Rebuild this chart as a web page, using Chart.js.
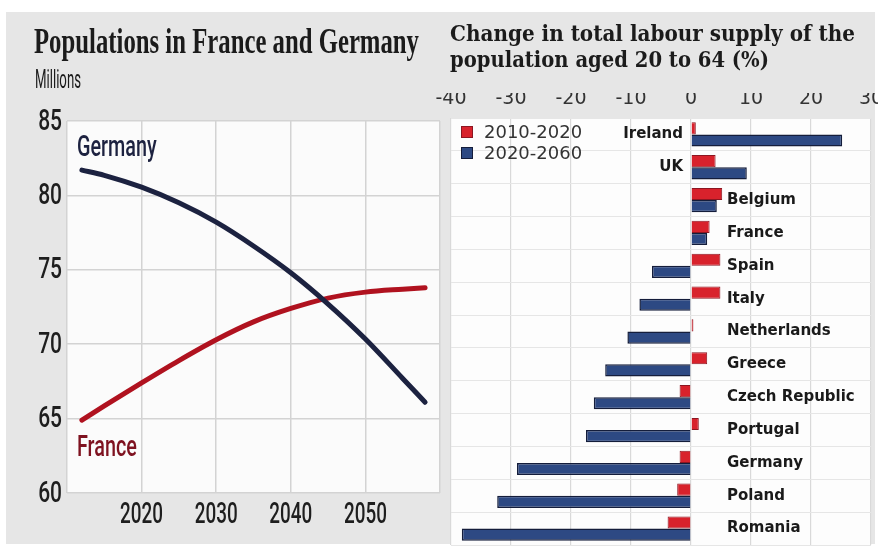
<!DOCTYPE html>
<html>
<head>
<meta charset="utf-8">
<script src="https://cdn.jsdelivr.net/npm/chart.js@4"></script>
<style>
  body { margin: 0; width: 878px; height: 547px; background: #fff; position: relative; overflow: hidden; }
  #frame { position: absolute; left: 6px; top: 12px; width: 869px; height: 532px; background: #e6e6e6; }
  .fit { position: absolute; white-space: nowrap; transform-origin: 0 0; color: #1b1b1b; }
  #left-title { left: 34px; top: 22px; font: bold 35px "Liberation Serif", serif; }
  #millions { left: 35px; top: 64px; font: 26px Roboto, sans-serif; }
  #right-title1 { left: 450px; top: 20px; font: bold 22px "DejaVu Serif", serif; }
  #right-title2 { left: 450px; top: 46px; font: bold 22px "DejaVu Serif", serif; }
  #left-wrap { position: absolute; left: 0; top: 0; }
  #right-wrap { position: absolute; left: 436px; top: 0; }
  #legend { position: absolute; left: 461px; top: 121px; font: 18px "DejaVu Sans", sans-serif; color: #333; }
  #legend div { height: 21px; display: flex; align-items: center; }
  #legend span.box { width: 10px; height: 10px; border: 1.5px solid; margin-right: 11px; }
</style>
</head>
<body>
<div id="frame"></div>
<div id="left-wrap"><canvas id="left-chart" width="445" height="547"></canvas></div>
<div id="right-wrap"><canvas id="right-chart" width="442" height="547"></canvas></div>
<div class="fit" id="left-title" data-w="385">Populations in France and Germany</div>
<div class="fit" id="millions" data-w="46">Millions</div>
<div class="fit" id="right-title1" data-w="405">Change in total labour supply of the</div>
<div class="fit" id="right-title2" data-w="319">population aged 20 to 64 (%)</div>
<div id="legend"></div>
<script>
// left panel: population, millions
const years = [2012, 2015, 2020, 2025, 2030, 2035, 2040, 2045, 2050, 2055, 2058];
const germany = [81.7, 81.35, 80.55, 79.5, 78.2, 76.6, 74.8, 72.7, 70.35, 67.7, 66.1];
const france = [64.9, 65.85, 67.4, 68.9, 70.3, 71.5, 72.4, 73.1, 73.5, 73.7, 73.8];
const yearTicks = [2020, 2030, 2040, 2050];

// right panel: change in labour supply, %
const countries = ['Ireland', 'UK', 'Belgium', 'France', 'Spain', 'Italy', 'Netherlands',
  'Greece', 'Czech Republic', 'Portugal', 'Germany', 'Poland', 'Romania'];
const change2010to2020 = [0.8, 4.1, 5.2, 3.1, 4.9, 4.9, 0.4, 2.7, -1.9, 1.3, -1.9, -2.3, -3.9];
const change2020to2060 = [25.2, 9.3, 4.3, 2.7, -6.5, -8.6, -10.6, -14.3, -16.2, -17.5, -29.0, -32.3, -38.2];
const seriesNames = ['2010-2020', '2020-2060'];

const RED = '#d8222c', RED_EDGE = '#8c1621';
const BLUE = '#2d4983', BLUE_EDGE = '#141d3b';

function narrowText(ctx, text, x, y, align, sx) {
  ctx.save();
  ctx.translate(x, y);
  ctx.scale(sx, 1);
  ctx.textAlign = align;
  ctx.fillText(text, 0, 0);
  ctx.restore();
}

const leftDecor = {
  id: 'leftDecor',
  beforeDraw(chart) {
    const { ctx, chartArea: a } = chart;
    ctx.save();
    ctx.fillStyle = '#fbfbfb';
    ctx.fillRect(a.left, a.top, a.right - a.left, a.bottom - a.top);
    ctx.restore();
  },
  afterDraw(chart) {
    const { ctx, chartArea: a, scales } = chart;
    ctx.save();
    ctx.fillStyle = '#1e1e1e';
    ctx.textBaseline = 'middle';
    ctx.font = '500 30px Roboto, sans-serif';
    scales.y.ticks.forEach(t => {
      narrowText(ctx, String(t.value), a.left - 5, scales.y.getPixelForValue(t.value) + 1, 'right', 0.7);
    });
    yearTicks.forEach(v => {
      narrowText(ctx, String(v), scales.x.getPixelForValue(v), a.bottom + 22, 'center', 0.63);
    });
    ctx.textBaseline = 'alphabetic';
    const g = chart.getDatasetMeta(0).data[0];
    const f = chart.getDatasetMeta(1).data[0];
    ctx.fillStyle = '#1d2240';
    narrowText(ctx, 'Germany', g.x - 5, g.y - 14, 'left', 0.66);
    ctx.fillStyle = '#7e1220';
    narrowText(ctx, 'France', f.x - 5, f.y + 36, 'left', 0.66);
    ctx.restore();
  }
};

new Chart(document.getElementById('left-chart'), {
  type: 'line',
  data: {
    datasets: [
      { label: 'Germany', data: years.map((x, i) => ({ x, y: germany[i] })), borderColor: '#1c2240' },
      { label: 'France', data: years.map((x, i) => ({ x, y: france[i] })), borderColor: '#b0121f' },
    ],
  },
  options: {
    responsive: false,
    animation: false,
    layout: { padding: { left: 12, right: 5, top: 121, bottom: 14 } },
    elements: {
      line: { borderWidth: 5, tension: 0.4, cubicInterpolationMode: 'monotone', borderCapStyle: 'round' },
      point: { radius: 0 },
    },
    plugins: { legend: { display: false }, tooltip: { enabled: false } },
    scales: {
      x: {
        type: 'linear', min: 2010, max: 2060,
        afterFit: s => { s.height = 40; },
        ticks: { stepSize: 10, display: false },
        grid: { color: '#d3d3d3', lineWidth: 1.5, drawTicks: false },
        border: { display: false },
      },
      y: {
        min: 60, max: 85,
        afterFit: s => { s.width = 55; },
        ticks: { stepSize: 5, display: false },
        grid: { color: '#d3d3d3', lineWidth: 1.5, drawTicks: false },
        border: { display: false },
      },
    },
  },
  plugins: [leftDecor],
});

const rightDecor = {
  id: 'rightDecor',
  beforeDraw(chart) {
    const { ctx, chartArea: a } = chart;
    ctx.save();
    ctx.fillStyle = '#fdfdfd';
    ctx.fillRect(a.left, a.top, a.right - a.left, a.bottom - a.top);
    ctx.restore();
  },
  afterDatasetsDraw(chart) {
    const { ctx, scales } = chart;
    const x0 = scales.x.getPixelForValue(0);
    const labelX = x0 + 36;
    ctx.save();
    ctx.font = 'bold 15px "DejaVu Sans", sans-serif';
    ctx.fillStyle = '#1a1a1a';
    ctx.textBaseline = 'middle';
    countries.forEach((name, i) => {
      const y = scales.y.getPixelForValue(i);
      const end = scales.x.getPixelForValue(Math.max(0, change2010to2020[i], change2020to2060[i]));
      if (end > labelX) {
        // bar would run into the label, so put the name left of zero
        ctx.textAlign = 'right';
        ctx.fillText(name, x0 - 8, y);
      } else {
        ctx.textAlign = 'left';
        ctx.fillText(name, labelX, y);
      }
    });
    ctx.restore();
  }
};

new Chart(document.getElementById('right-chart'), {
  type: 'bar',
  data: {
    labels: countries,
    datasets: [
      { label: seriesNames[0], data: change2010to2020, backgroundColor: RED, borderColor: RED_EDGE, borderWidth: 1 },
      { label: seriesNames[1], data: change2020to2060, backgroundColor: BLUE, borderColor: BLUE_EDGE, borderWidth: 1.5 },
    ],
  },
  options: {
    indexAxis: 'y',
    responsive: false,
    animation: false,
    layout: { padding: { left: 15, right: 7, top: 93, bottom: 2 } },
    datasets: { bar: { categoryPercentage: 0.74, barPercentage: 1 } },
    plugins: { legend: { display: false }, tooltip: { enabled: false } },
    scales: {
      x: {
        position: 'top', min: -40, max: 30,
        afterFit: s => { s.height = 25; s.paddingLeft = 0; s.paddingRight = 0; },
        ticks: { stepSize: 10, padding: 8, color: '#333', font: { family: 'DejaVu Sans', size: 19 } },
        grid: { color: '#d9d9d9', lineWidth: 1.2, drawTicks: false },
        border: { display: false },
      },
      y: {
        afterFit: s => { s.width = 0; },
        ticks: { display: false },
        grid: { color: '#e6e6e6', offset: true, drawTicks: false },
        border: { display: false },
      },
    },
  },
  plugins: [rightDecor],
});

// legend
document.getElementById('legend').innerHTML = seriesNames.map((name, i) =>
  `<div><span class="box" style="background:${i ? BLUE : RED};border-color:${i ? BLUE_EDGE : RED_EDGE}"></span>${name}</div>`
).join('');

// squeeze headings to the reference widths
document.querySelectorAll('.fit').forEach(el => {
  const w = el.getBoundingClientRect().width;
  el.style.transform = `scaleX(${Number(el.dataset.w) / w})`;
});
</script>
</body>
</html>
